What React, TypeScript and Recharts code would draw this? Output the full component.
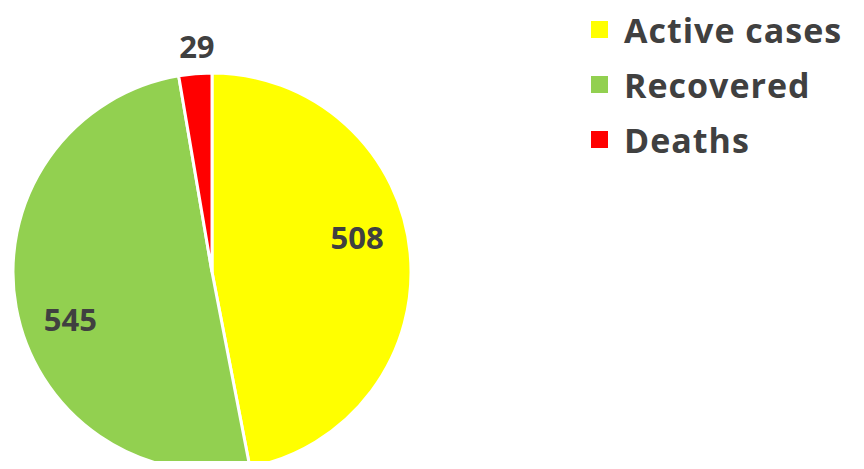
import { PieChart, Pie, Cell, Legend } from "recharts";

const categories = ["Active cases", "Recovered", "Deaths"];
const values = [508, 545, 29];
const colors = ["#FFFF00", "#92D050", "#FF0000"];

const data = categories.map((name, i) => ({ name, value: values[i] }));

const RAD = Math.PI / 180;
const TEXT = "#404040";
const FONT = "'Open Sans', Lato, sans-serif";

// Excel-ish "best fit": inside labels sit a bit counter-clockwise of the mid angle,
// tiny slices get their label outside
const renderLabel = (props: any) => {
  const { cx, cy, midAngle, outerRadius, value, percent } = props;
  const inside = percent > 0.1;
  const angle = inside ? midAngle + 8 : midAngle - 1;
  const r = inside ? outerRadius * 0.75 : outerRadius + 28;
  const x = cx + r * Math.cos(-angle * RAD);
  const y = cy + r * Math.sin(-angle * RAD);
  return (
    <text
      x={x}
      y={y}
      fill={TEXT}
      textAnchor="middle"
      dominantBaseline="central"
      fontFamily={FONT}
      fontWeight={700}
      fontSize={31}
    >
      {value}
    </text>
  );
};

const LegendContent = () => (
  <div style={{ fontFamily: FONT }}>
    {categories.map((c, i) => (
      <div key={c} style={{ display: "flex", alignItems: "center", height: 55 }}>
        <div style={{ width: 17, height: 17, background: colors[i], marginRight: 16 }} />
        <span
          style={{ fontSize: 34, fontWeight: 700, color: TEXT, lineHeight: 1, letterSpacing: 1 }}
        >
          {c}
        </span>
      </div>
    ))}
  </div>
);

export default function App() {
  return (
    <div style={{ margin: -8, width: 864, height: 469, background: "#fff" }}>
      <PieChart width={864} height={469} margin={{ top: 0, right: 0, bottom: 0, left: 0 }}>
        <Pie
          data={data}
          dataKey="value"
          nameKey="name"
          cx={212}
          cy={272}
          outerRadius={199}
          startAngle={90}
          endAngle={-270}
          stroke="#ffffff"
          strokeWidth={3}
          label={renderLabel}
          labelLine={false}
          isAnimationActive={false}
        >
          {data.map((d, i) => (
            <Cell key={d.name} fill={colors[i]} />
          ))}
        </Pie>
        <Legend
          content={<LegendContent />}
          wrapperStyle={{ left: 591, top: 2, width: 273 }}
        />
      </PieChart>
    </div>
  );
}
